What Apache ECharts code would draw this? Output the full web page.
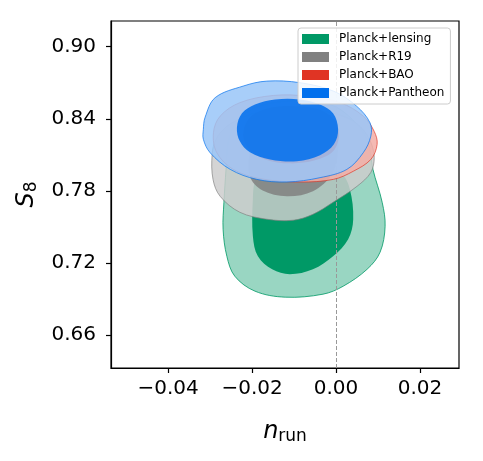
<!DOCTYPE html>
<html>
<head>
<meta charset="utf-8">
<script src="https://cdn.jsdelivr.net/npm/echarts@6/dist/echarts.min.js"></script>
<style>
  html, body { margin: 0; padding: 0; background: #fff; }
  #chart { width: 483px; height: 461px; }
</style>
</head>
<body>
<div id="chart"></div>
<script>
// axis ranges and ticks
const xRange = [-0.0536, 0.0293];
const yRange = [0.6328, 0.9214];
const xTicks = [-0.04, -0.02, 0.0, 0.02];
const yTicks = [0.66, 0.72, 0.78, 0.84, 0.90];

const names = ['Planck+lensing', 'Planck+R19', 'Planck+BAO', 'Planck+Pantheon'];

// contours, [n_run, S8]
const lensingOuter = [
  [-0.0098, 0.8554], [-0.0186, 0.8504], [-0.0236, 0.8379], [-0.0257, 0.8213],
  [-0.0262, 0.7980], [-0.0267, 0.7706], [-0.0269, 0.7482], [-0.0260, 0.7257],
  [-0.0241, 0.7091], [-0.0193, 0.6967], [-0.0121, 0.6917], [-0.0031, 0.6942],
  [0.0017, 0.7008], [0.0074, 0.7149], [0.0105, 0.7291], [0.0117, 0.7507],
  [0.0110, 0.7706], [0.0088, 0.7980], [0.0076, 0.8213], [0.0050, 0.8354],
  [0.0002, 0.8496], [-0.0050, 0.8545]
];
const lensingInner = [
  [-0.0198, 0.7731], [-0.0191, 0.7897], [-0.0162, 0.7997], [-0.0105, 0.8030],
  [-0.0038, 0.8014], [0.0014, 0.7939], [0.0033, 0.7814], [0.0041, 0.7565],
  [0.0029, 0.7399], [-0.0007, 0.7257], [-0.0055, 0.7149], [-0.0110, 0.7108],
  [-0.0152, 0.7149], [-0.0186, 0.7257], [-0.0198, 0.7424]
];
const r19Outer = [
  [-0.0295, 0.8105], [-0.0286, 0.8230], [-0.0260, 0.8338], [-0.0221, 0.8412],
  [-0.0181, 0.8454], [-0.0086, 0.8479], [-0.0007, 0.8446], [0.0038, 0.8388],
  [0.0064, 0.8313], [0.0083, 0.8205], [0.0091, 0.8080], [0.0083, 0.7955],
  [0.0050, 0.7839], [-0.0007, 0.7706], [-0.0055, 0.7606], [-0.0102, 0.7557],
  [-0.0164, 0.7565], [-0.0229, 0.7623], [-0.0276, 0.7756], [-0.0293, 0.7897]
];
const r19Inner = [
  [-0.0205, 0.8147], [-0.0193, 0.8313], [-0.0157, 0.8412], [-0.0098, 0.8446],
  [-0.0038, 0.8412], [-0.0002, 0.8313], [0.0005, 0.8147], [-0.0010, 0.7939],
  [-0.0055, 0.7798], [-0.0117, 0.7756], [-0.0176, 0.7806], [-0.0205, 0.7922]
];
const baoOuter = [
  [-0.0292, 0.8285], [-0.0276, 0.8423], [-0.0229, 0.8535], [-0.0149, 0.8595],
  [-0.0070, 0.8589], [0.0010, 0.8535], [0.0065, 0.8423], [0.0091, 0.8296],
  [0.0098, 0.8188], [0.0083, 0.8063], [0.0041, 0.7964], [-0.0006, 0.7897],
  [-0.0086, 0.7875], [-0.0181, 0.7903], [-0.0245, 0.7980], [-0.0284, 0.8119]
];
const baoInner = [
  [-0.0221, 0.8271], [-0.0205, 0.8412], [-0.0162, 0.8487], [-0.0105, 0.8504],
  [-0.0043, 0.8479], [-0.0005, 0.8396], [0.0007, 0.8263], [-0.0007, 0.8130],
  [-0.0050, 0.8055], [-0.0110, 0.8030], [-0.0169, 0.8063], [-0.0207, 0.8147]
];
const pantheonOuter = [
  [-0.0316, 0.8313], [-0.0312, 0.8412], [-0.0288, 0.8576], [-0.0221, 0.8673],
  [-0.0165, 0.8714], [-0.0086, 0.8701], [-0.0006, 0.8631], [0.0049, 0.8506],
  [0.0081, 0.8368], [0.0083, 0.8257], [0.0065, 0.8119], [0.0026, 0.7980],
  [-0.0038, 0.7911], [-0.0117, 0.7875], [-0.0189, 0.7897], [-0.0252, 0.7980],
  [-0.0300, 0.8119], [-0.0316, 0.8230]
];
const pantheonInner = [
  [-0.0236, 0.8329], [-0.0224, 0.8446], [-0.0193, 0.8520], [-0.0145, 0.8562],
  [-0.0086, 0.8562], [-0.0038, 0.8520], [-0.0007, 0.8446], [0.0005, 0.8313],
  [-0.0005, 0.8188], [-0.0038, 0.8097], [-0.0093, 0.8047], [-0.0157, 0.8063],
  [-0.0205, 0.8122], [-0.0229, 0.8213]
];

const colors = ['#009966', '#808080', '#E03424', '#006FED'];

// getdist style: outer level is the colour mixed with white
function pale(hex) {
  const c = [1, 3, 5].map(i => parseInt(hex.slice(i, i + 2), 16));
  return 'rgb(' + c.map(v => Math.round(v * 0.4 + 255 * 0.6)).join(',') + ')';
}

function contourSeries(name, pts, fill, stroke, opacity, z) {
  return {
    type: 'custom',
    name: name,
    z: z,
    silent: true,
    itemStyle: { color: fill },
    data: pts,
    renderItem: function (params, api) {
      if (params.dataIndex !== 0) return null;
      return {
        type: 'polygon',
        shape: { points: pts.map(p => api.coord(p)), smooth: 0.35 },
        style: {
          fill: fill,
          opacity: opacity,
          stroke: stroke,
          lineWidth: stroke ? 0.8 : 0
        }
      };
    }
  };
}

const sets = [
  [lensingOuter, lensingInner],
  [r19Outer, r19Inner],
  [baoOuter, baoInner],
  [pantheonOuter, pantheonInner]
];

const series = [];
sets.forEach((s, i) => {
  const op = i === 0 ? 1 : 0.85;
  series.push(contourSeries(names[i], s[0], pale(colors[i]), colors[i], op, 2 + i * 2));
  series.push(contourSeries(names[i], s[1], colors[i], null, op, 3 + i * 2));
});

// dashed line at n_run = 0
series.push({
  type: 'line',
  data: [],
  z: 20,
  markLine: {
    silent: true,
    symbol: 'none',
    label: { show: false },
    lineStyle: { color: '#999', type: [4, 2], width: 1 },
    data: [{ xAxis: 0 }]
  }
});

const fmt = v => (v < 0 ? '\u2212' : '') + Math.abs(v).toFixed(2);

const chart = echarts.init(document.getElementById('chart'));
chart.setOption({
  animation: false,
  textStyle: { fontFamily: 'DejaVu Sans' },
  grid: {
    left: 111, right: 24, top: 21, bottom: 93,
    show: true, borderColor: '#000', borderWidth: 1.2, backgroundColor: '#fff'
  },
  legend: {
    orient: 'vertical',
    left: 298,
    top: 28,
    icon: 'rect',
    itemWidth: 27,
    itemHeight: 10,
    itemGap: 6,
    padding: [5, 6, 5, 4],
    borderColor: '#ccc',
    borderWidth: 1,
    borderRadius: 3,
    backgroundColor: 'rgba(255,255,255,0.85)',
    selectedMode: false,
    textStyle: { fontSize: 12, color: '#000', fontFamily: 'DejaVu Sans', padding: [0, 0, 0, 5] },
    data: names.map((n, i) => ({ name: n, itemStyle: { color: colors[i] } })),
    z: 30
  },
  xAxis: {
    type: 'value',
    min: xRange[0],
    max: xRange[1],
    splitLine: { show: false },
    axisLine: { onZero: false, lineStyle: { color: '#000', width: 1.2 } },
    axisTick: { show: true, length: 5, lineStyle: { color: '#000', width: 1.2 }, customValues: xTicks },
    axisLabel: { customValues: xTicks, formatter: fmt, fontSize: 20, color: '#000', margin: 11 },
    name: '{n|n}{sub|run}',
    nameLocation: 'middle',
    nameGap: 50,
    nameTextStyle: {
      rich: {
        n: { fontSize: 24, fontStyle: 'italic', fontFamily: 'DejaVu Sans', color: '#000' },
        sub: { fontSize: 17, fontFamily: 'DejaVu Sans', color: '#000', padding: [10, 0, 0, 0] }
      }
    }
  },
  yAxis: {
    type: 'value',
    min: yRange[0],
    max: yRange[1],
    splitLine: { show: false },
    axisLine: { onZero: false, lineStyle: { color: '#000', width: 1.2 } },
    axisTick: { show: true, length: 5, lineStyle: { color: '#000', width: 1.2 }, customValues: yTicks },
    axisLabel: { customValues: yTicks, formatter: fmt, fontSize: 20, color: '#000', margin: 15 },
    name: '{s|S}{sub|8}',
    nameLocation: 'middle',
    nameGap: 71,
    nameRotate: 90,
    nameTextStyle: {
      rich: {
        s: { fontSize: 24, fontStyle: 'italic', fontFamily: 'DejaVu Sans', color: '#000' },
        sub: { fontSize: 17, fontFamily: 'DejaVu Sans', color: '#000', padding: [10, 0, 0, 0] }
      }
    }
  },
  series: series
});
</script>
</body>
</html>
